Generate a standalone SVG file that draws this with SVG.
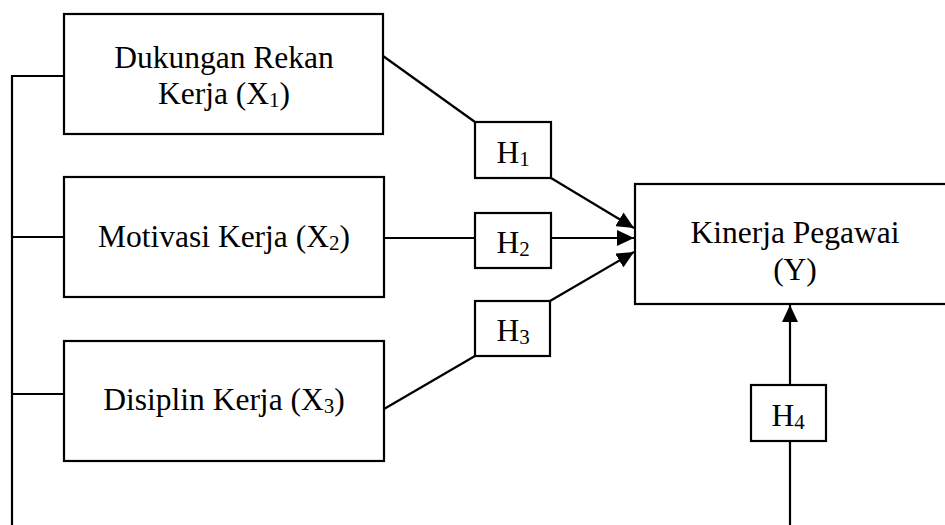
<svg xmlns="http://www.w3.org/2000/svg" width="945" height="525" viewBox="0 0 945 525">
<style>
.box{fill:#fff;stroke:#000;stroke-width:2.2}
.ln{fill:none;stroke:#000;stroke-width:2.2}
text{font-family:"Liberation Serif","Times New Roman",serif;font-size:31.5px;fill:#000;text-anchor:middle}
.sub{font-size:21px}
</style>
<defs>
<marker id="ah" markerUnits="userSpaceOnUse" markerWidth="18" markerHeight="16" refX="17" refY="8" orient="auto">
<path d="M0,0 L17,8 L0,16 Z" fill="#000"/>
</marker>
</defs>
<g id="connectors">
<path class="ln" d="M12,525 V76 H64 M12,237 H64 M12,394 H64"/>
<path class="ln" d="M383,56 L475,122"/>
<path class="ln" d="M551,178 L634,228" marker-end="url(#ah)"/>
<path class="ln" d="M384,238 H475"/>
<path class="ln" d="M551,238 H634" marker-end="url(#ah)"/>
<path class="ln" d="M384,409 L475,356"/>
<path class="ln" d="M550,301 L634,252" marker-end="url(#ah)"/>
<path class="ln" d="M790,525 V441"/>
<path class="ln" d="M790,385 V305" marker-end="url(#ah)"/>
</g>
<g id="x1">
<rect class="box" x="64" y="14" width="319" height="120"/>
<text x="224" y="68">Dukungan Rekan</text>
<text x="224" y="104">Kerja (X<tspan class="sub" dy="3">1</tspan><tspan dy="-3">)</tspan></text>
</g>
<g id="x2">
<rect class="box" x="64" y="177" width="320" height="120"/>
<text x="224" y="247">Motivasi Kerja (X<tspan class="sub" dy="3">2</tspan><tspan dy="-3">)</tspan></text>
</g>
<g id="x3">
<rect class="box" x="64" y="341" width="320" height="120"/>
<text x="224" y="410">Disiplin Kerja (X<tspan class="sub" dy="3">3</tspan><tspan dy="-3">)</tspan></text>
</g>
<g id="y">
<rect class="box" x="635" y="184" width="320" height="120"/>
<text x="795" y="243">Kinerja Pegawai</text>
<text x="795" y="280">(Y)</text>
</g>
<g id="h1">
<rect class="box" x="475" y="122" width="76" height="56"/>
<text x="513" y="163">H<tspan class="sub" dy="3">1</tspan></text>
</g>
<g id="h2">
<rect class="box" x="475" y="213" width="76" height="55"/>
<text x="513" y="253">H<tspan class="sub" dy="3">2</tspan></text>
</g>
<g id="h3">
<rect class="box" x="475" y="301" width="75" height="55"/>
<text x="513" y="341">H<tspan class="sub" dy="3">3</tspan></text>
</g>
<g id="h4">
<rect class="box" x="751" y="385" width="75" height="56"/>
<text x="788" y="426">H<tspan class="sub" dy="3">4</tspan></text>
</g>
</svg>
